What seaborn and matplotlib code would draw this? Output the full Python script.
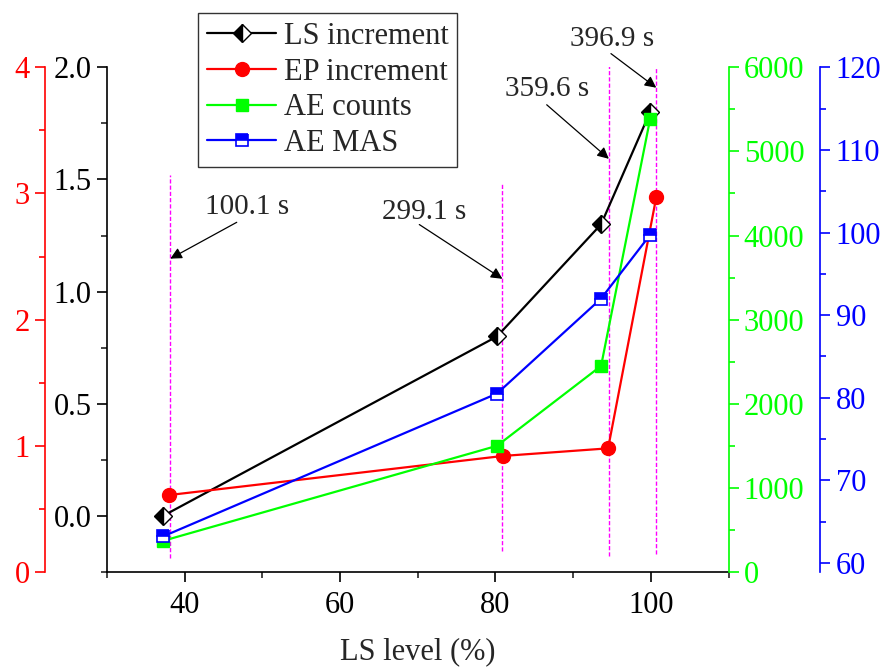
import matplotlib
matplotlib.use("Agg")
import matplotlib.pyplot as plt
import seaborn as sns
import numpy as np

# ---------------- data ----------------
ls_level = [37.2, 80.2, 93.6, 99.9]          # x for LS / AE series
ep_level = [38.0, 81.0, 94.5, 100.7]         # x for EP series
ls_increment = [0.0, 0.80, 1.30, 1.80]
ep_increment = [0.61, 0.92, 0.98, 2.97]
ae_counts = [370, 1500, 2450, 5380]
ae_mas = [63.2, 80.5, 92.0, 99.7]

event_x = [38.15, 80.9, 94.6, 100.7]
event_labels = ["100.1 s", "299.1 s", "359.6 s", "396.9 s"]

series_names = ["LS increment", "EP increment", "AE counts", "AE MAS"]

# ---------------- layout / style ----------------
sns.set_theme(style="ticks")
plt.rcParams["font.family"] = ["Liberation Serif", "DejaVu Serif"]
plt.rcParams["font.size"] = 22

RED = "#FF0000"
GREEN = "#00FF00"
BLUE = "#0000FF"
MAG = "#FF00FF"

fig = plt.figure(figsize=(8.85, 6.7), dpi=100)
ax = fig.add_axes([107 / 885, 1 - 572 / 670, (728.5 - 107) / 885, (572 - 67.3) / 670])
ax_red = ax.twinx()
ax_green = ax.twinx()
ax_blue = ax.twinx()

tick_kw = dict(labelsize=22, width=1.2, length=7, pad=4)
minor_kw = dict(width=1.2, length=4)

# main (black) axis
ax.set_xlim(30, 110)
ax.set_ylim(-0.25, 2.0)
ax.set_xticks([40, 60, 80, 100])
ax.set_xticks(np.arange(30, 111, 10), minor=True)
ax.set_yticks([0.0, 0.5, 1.0, 1.5, 2.0])
ax.set_yticks(np.arange(-0.25, 2.01, 0.25), minor=True)
ax.yaxis.set_major_formatter(matplotlib.ticker.FormatStrFormatter("%.1f"))
ax.tick_params(axis="both", which="major", direction="out", colors="black", **tick_kw)
ax.tick_params(axis="both", which="minor", direction="out", **minor_kw)
ax.tick_params(axis="x", which="major", pad=7)
ax.spines["top"].set_visible(False)
ax.spines["right"].set_visible(False)
for s in ["left", "bottom"]:
    ax.spines[s].set_linewidth(1.2)
    ax.spines[s].set_color("black")
ax.set_xlabel("LS level (%)", fontsize=22, labelpad=12)

# red axis (far left)
ax_red.set_ylim(0, 4)
ax_red.yaxis.set_ticks_position("left")
ax_red.yaxis.set_label_position("left")
ax_red.spines["left"].set_position(("outward", 44.6))
for s in ["top", "right", "bottom"]:
    ax_red.spines[s].set_visible(False)
ax_red.spines["left"].set_visible(True)
ax_red.spines["left"].set_color(RED)
ax_red.spines["left"].set_linewidth(1.2)
ax_red.set_yticks([0, 1, 2, 3, 4])
ax_red.set_yticks(np.arange(0, 4.01, 0.5), minor=True)
ax_red.tick_params(axis="y", which="major", colors=RED, **tick_kw)
ax_red.tick_params(axis="y", which="minor", colors=RED, **minor_kw)

# green axis (right)
ax_green.set_ylim(0, 6000)
for s in ["top", "left", "bottom"]:
    ax_green.spines[s].set_visible(False)
ax_green.spines["right"].set_color(GREEN)
ax_green.spines["right"].set_linewidth(1.2)
ax_green.set_yticks(np.arange(0, 6001, 1000))
ax_green.set_yticks(np.arange(0, 6001, 500), minor=True)
ax_green.tick_params(axis="y", which="major", colors=GREEN, **tick_kw)
ax_green.tick_params(axis="y", which="minor", colors=GREEN, **minor_kw)

# blue axis (far right)
ax_blue.set_ylim(58.9, 120)
ax_blue.spines["right"].set_position(("outward", 66.2))
for s in ["top", "left", "bottom"]:
    ax_blue.spines[s].set_visible(False)
ax_blue.spines["right"].set_color(BLUE)
ax_blue.spines["right"].set_linewidth(1.2)
ax_blue.set_yticks(np.arange(60, 121, 10))
ax_blue.set_yticks(np.arange(60, 121, 5), minor=True)
ax_blue.tick_params(axis="y", which="major", colors=BLUE, **tick_kw)
ax_blue.tick_params(axis="y", which="minor", colors=BLUE, **minor_kw)

# ---------------- event markers ----------------
event_ymin = [-0.1875, -0.156, -0.179, -0.17]
event_ymax = [1.518, 1.483, 2.013, 2.016]
ax.vlines(event_x, event_ymin, event_ymax, colors=MAG, linewidth=1.0,
          linestyles=[(0, (3, 1.5))], zorder=1)

text_pos = [(48.0, 1.376), (70.8, 1.354), (86.6, 1.905), (94.96, 2.124)]
arrow_start = [(46.7, 1.309), (70.2, 1.299), (86.6, 1.833), (94.87, 2.061)]
arrow_y = [1.147, 1.057, 1.592, 1.909]
for lab, ex, ay, (sx, sy), (tx, ty) in zip(event_labels, event_x, arrow_y,
                                          arrow_start, text_pos):
    ax.text(tx, ty, lab, ha="center", va="center", fontsize=21, clip_on=False)
    ax.annotate("", xy=(ex, ay), xytext=(sx, sy), textcoords="data",
                annotation_clip=False,
                arrowprops=dict(arrowstyle="-|>", color="black", lw=0.9,
                                mutation_scale=17, shrinkA=0, shrinkB=0))

# ---------------- series ----------------
lw = 1.6
sns.lineplot(x=ls_level, y=ls_increment, ax=ax, color="black", sort=False,
             estimator=None, legend=False, linewidth=lw, marker="D", markersize=9,
             fillstyle="left", markerfacecolor="black", markerfacecoloralt="white",
             markeredgecolor="black", markeredgewidth=1.0)
sns.lineplot(x=ep_level, y=ep_increment, ax=ax_red, color=RED, sort=False,
             estimator=None, legend=False, linewidth=lw, marker="o", markersize=10,
             markerfacecolor=RED, markeredgecolor=RED, markeredgewidth=1.0)
sns.lineplot(x=ls_level, y=ae_counts, ax=ax_green, color=GREEN, sort=False,
             estimator=None, legend=False, linewidth=lw, marker="s", markersize=8,
             markerfacecolor=GREEN, markeredgecolor=GREEN, markeredgewidth=1.0)
sns.lineplot(x=ls_level, y=ae_mas, ax=ax_blue, color=BLUE, sort=False,
             estimator=None, legend=False, linewidth=lw, marker="s", markersize=8,
             fillstyle="top", markerfacecolor=BLUE, markerfacecoloralt="white",
             markeredgecolor=BLUE, markeredgewidth=1.2)

handles = [ax.lines[-1], ax_red.lines[-1], ax_green.lines[-1], ax_blue.lines[-1]]
for h, n in zip(handles, series_names):
    h.set_label(n)

leg = fig.legend(handles=handles, labels=series_names, loc="upper left",
                 bbox_to_anchor=(198 / 885, 1 - 12.7 / 670), fontsize=22,
                 frameon=True, fancybox=False, edgecolor="#333333",
                 framealpha=1.0, handlelength=2.25, handletextpad=0.25,
                 labelspacing=0.22, borderpad=0.3, borderaxespad=0, numpoints=1)
leg.get_frame().set_linewidth(1.0)

fig.savefig("out.png", dpi=100)
